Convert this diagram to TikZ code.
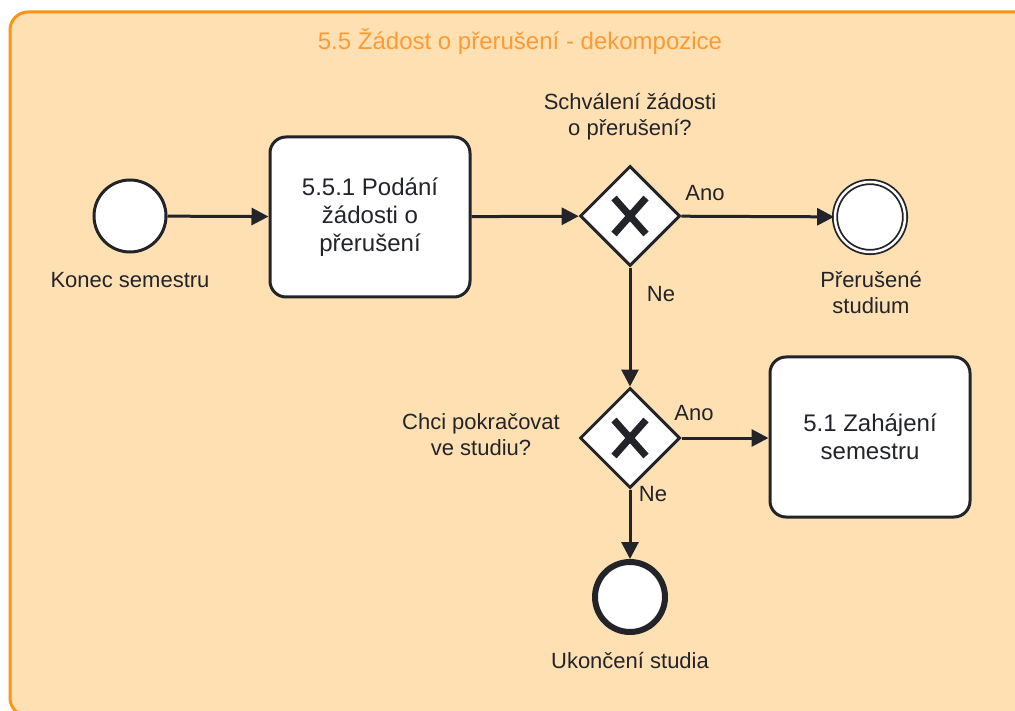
\documentclass[tikz,border=0pt]{standalone}
\usepackage{fontspec}
\setmainfont{Liberation Sans}
\usetikzlibrary{arrows.meta,shapes.geometric}
\definecolor{ink}{HTML}{22242A}
\definecolor{bgfill}{HTML}{FFE0B3}
\definecolor{framec}{HTML}{FF9414}
\definecolor{titlec}{HTML}{FF9A33}
\begin{document}
\begin{tikzpicture}[x=1pt,y=-1pt,
  flow/.style={draw=ink, line width=3pt, -{Triangle[length=17pt,width=17pt]}},
  taskbox/.style={draw=ink, fill=white, line width=3pt, rounded corners=16pt,
    minimum width=200pt, minimum height=160pt, align=center, text=ink,
    font=\fontsize{24}{28}\selectfont},
  gate/.style={draw=ink, fill=white, line width=3pt, diamond, aspect=1,
    inner sep=0pt, minimum width=100pt, minimum height=100pt},
  startev/.style={draw=ink, fill=white, line width=3pt, circle, inner sep=0pt, minimum size=72pt},
  midev/.style={draw=ink, line width=1.8pt, double=white, double distance=2.5pt, fill=white,
    circle, inner sep=0pt, minimum size=70pt},
  endev/.style={draw=ink, fill=white, line width=6pt, circle, inner sep=0pt, minimum size=70pt},
  lbl/.style={text=ink, align=center, font=\fontsize{22}{26}\selectfont, inner sep=0pt},
  xmark/.style={draw=ink, line width=7pt}
]
\useasboundingbox (0,0) rectangle (1015,711);
\clip (0,0) rectangle (1015,711);
\draw[draw=framec, fill=bgfill, line width=3pt, rounded corners=18pt] (10,12) rectangle (1060,716);
\node[text=titlec, font=\fontsize{24}{28}\selectfont, inner sep=0pt] (title) at (520,42) {5.5 Žádost o přerušení - dekompozice};

% nodes
\node[startev] (start) at (130,216) {};
\node[lbl] (startlbl) at (130,280) {Konec semestru};
\node[taskbox] (task1) at (370,217) {5.5.1 Podání\\žádosti o\\přerušení};
\node[gate] (g1) at (630,216) {};
\draw[xmark] ([shift={(-16,-18)}]g1.center) -- ([shift={(16,18)}]g1.center);
\draw[xmark] ([shift={(16,-18)}]g1.center) -- ([shift={(-16,18)}]g1.center);
\node[lbl] (g1lbl) at (630,117) {Schválení žádosti\\o přerušení?};
\node[midev] (end1) at (870,217) {};
\node[lbl] (end1lbl) at (871,293) {Přerušené\\studium};
\node[gate] (g2) at (630,438) {};
\draw[xmark] ([shift={(-16,-18)}]g2.center) -- ([shift={(16,18)}]g2.center);
\draw[xmark] ([shift={(16,-18)}]g2.center) -- ([shift={(-16,18)}]g2.center);
\node[lbl] (g2lbl) at (481,435) {Chci pokračovat\\ve studiu?};
\node[taskbox] (task2) at (870,437) {5.1 Zahájení\\semestru};
\node[endev] (end2) at (630,597) {};
\node[lbl] (end2lbl) at (630,661) {Ukončení studia};

% flows
\draw[flow] (start) -- (task1);
\draw[flow] (task1) -- (g1);
\draw[flow] (g1) -- (end1);
\draw[flow] (g1) -- (g2);
\draw[flow] (g2.east) -- (task2.west |- g2.east);
\draw[flow] (g2) -- (end2);

% flow labels
\node[lbl] (ano1) at (705,193) {Ano};
\node[lbl] (ne1) at (661,294) {Ne};
\node[lbl] (ano2) at (694,413) {Ano};
\node[lbl] (ne2) at (653,494) {Ne};
\end{tikzpicture}
\end{document}
